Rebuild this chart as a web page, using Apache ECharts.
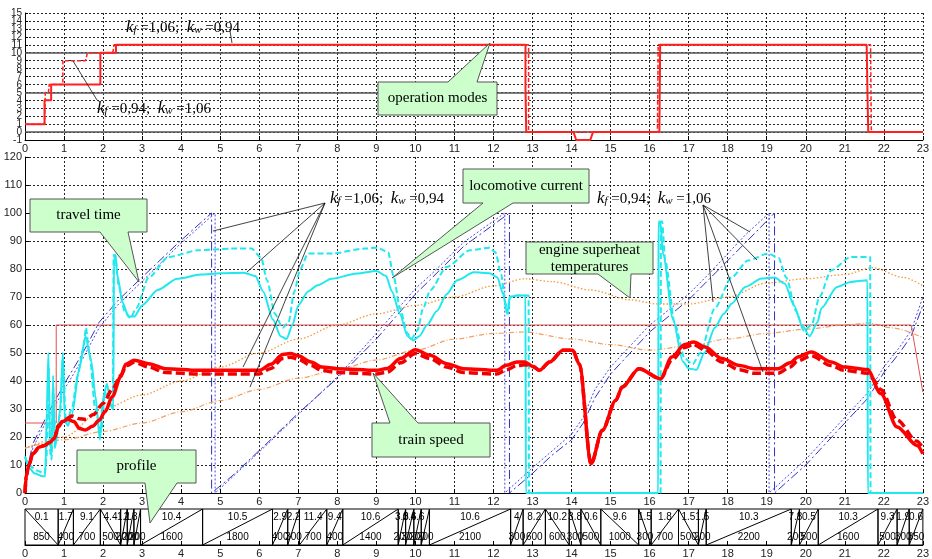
<!DOCTYPE html>
<html><head><meta charset="utf-8">
<script src="https://cdn.jsdelivr.net/npm/echarts@6/dist/echarts.min.js"></script>
<style>html,body{margin:0;padding:0;background:#fff}#c{width:932px;height:559px}</style>
</head><body><div id="c"></div>
<script>
// ---------- axis ranges / ticks ----------
const kmTicks = {min: 0, max: 23, step: 1};
const modeTicks = {min: -1, max: 15, step: 1};
const modeTickLabels = [-1,0,1,2,3,4,5,6,7,8,9,10,11,12,13,14,15];
const mainTicks = {min: 0, max: 120, step: 10};
const modeSolidGrid = [0, 5, 10];

// ---------- top panel: operation modes ----------
const modeSolid = [[0,1],[0.5,1],[0.5,4],[0.67,4],[0.67,6],[1.93,6],[1.93,10],[2.33,10],[2.33,11],[12.82,11],[12.82,5.5],[12.84,5.5],[12.84,0],[14.05,0],[14.12,-1],[14.48,-1],[14.55,0],[16.25,0],[16.27,11],[21.56,11],[21.58,5],[21.6,0],[23,0]];
const modeDashed = [[0,1],[0.5,1],[0.52,5],[0.6,5],[0.62,6],[0.97,6],[0.97,9],[1.55,9],[1.6,10],[2.25,10],[2.28,11],[12.9,11],[12.9,0],[16.2,0],[16.22,11],[21.66,11],[21.68,0],[23,0]];

// ---------- main panel ----------
const speedSolid = [[0,0],[0.03,6],[0.1,10],[0.2,14],[0.37,16.4],[0.5,17],[0.63,18],[0.75,19.5],[0.85,23.5],[0.95,25.5],[1.1,26.3],[1.25,25.5],[1.4,23],[1.55,22.5],[1.73,23.8],[1.9,26],[2.05,29],[2.24,34.5],[2.45,41.5],[2.58,46],[2.8,47.4],[3.17,46.2],[3.6,44.4],[4.44,43.8],[5.5,43.8],[6.0,43.8],[6.3,46],[6.6,49.5],[6.8,49.8],[7.0,49],[7.33,46.8],[7.6,45],[8.0,44.4],[9.0,43.8],[9.28,44.5],[9.62,48],[10.0,51.2],[10.38,49.2],[10.8,46.2],[11.23,44.4],[12.08,43.8],[12.33,45.6],[12.6,46.8],[12.8,46.8],[13.01,45.2],[13.18,43.8],[13.44,46.8],[13.78,51],[14.03,51],[14.2,46],[14.5,10.5],[14.79,22.4],[15.13,33],[15.3,37.9],[15.73,44.4],[16.28,40.8],[16.57,48.6],[16.9,53],[17.13,53.9],[17.42,52.1],[17.85,48],[18.3,45.5],[18.69,44.4],[19.29,44.4],[19.6,46.5],[19.8,48.6],[20.14,50.4],[20.65,46.8],[20.98,45],[21.58,44.1],[21.92,35.5],[22.34,23.6],[22.85,17],[23,14]];
const speedDashed = [[0,0],[0.03,6],[0.1,10],[0.2,14],[0.37,16.4],[0.5,17],[0.63,18],[0.75,19.5],[0.85,24],[1.0,26],[1.2,27.5],[1.4,26.5],[1.55,26.3],[1.75,28],[2.0,32],[2.24,37],[2.45,42],[2.6,45.5],[2.8,46.7],[3.17,45],[3.6,43],[4.44,42.5],[5.5,42.5],[6.0,42.5],[6.3,44.5],[6.6,48],[6.8,48.5],[7.0,47.8],[7.33,45.5],[7.6,43.8],[8.0,43],[9.0,42.5],[9.28,43.2],[9.62,46.5],[10.0,49.8],[10.38,48],[10.8,45],[11.23,43],[12.08,42.5],[12.33,44],[12.6,45.5],[12.8,45.8],[13.01,45.2],[13.18,43.8],[13.44,46.8],[13.78,51],[14.03,51],[14.2,46],[14.5,10.5],[14.79,22.4],[15.13,33],[15.3,37.9],[15.73,44.4],[16.28,40.8],[16.57,47.5],[16.9,52],[17.13,53],[17.42,51],[17.85,46.8],[18.3,44],[18.69,42.8],[19.29,42.8],[19.6,45],[19.8,47.2],[20.14,49],[20.65,45.5],[20.98,43.8],[21.58,42.8],[21.7,41],[21.92,37],[22.34,26],[22.85,18.5],[23,16]];
const speedLimit = [[0,25],[0.8,25],[0.8,60],[22.7,60],[23,36]];

const currentSolid = [[0,13],[0.1,9],[0.25,7],[0.45,6],[0.52,6],[0.56,30],[0.6,50],[0.64,20],[0.68,13],[0.72,42],[0.76,16],[0.82,20],[0.9,30],[0.97,50],[1.02,26],[1.1,24],[1.2,28],[1.4,45],[1.55,56],[1.7,47],[1.8,35],[1.92,19],[2.0,34],[2.1,39],[2.2,31],[2.26,30],[2.28,85],[2.32,85],[2.36,78],[2.5,68],[2.65,63],[2.8,63],[3.0,67],[3.4,72.5],[3.9,76.5],[4.5,78],[5.0,78.5],[5.6,78.7],[5.9,77.5],[6.1,72],[6.35,62],[6.55,56],[6.7,55],[6.85,60],[7.0,67],[7.25,72],[7.5,74.2],[7.85,76.5],[8.5,78.4],[9.0,79.3],[9.25,77.5],[9.4,72],[9.6,64],[9.8,56],[9.95,54.5],[10.1,56],[10.3,60],[10.55,65],[10.8,71],[11.07,76],[11.5,78.8],[11.9,78.5],[12.1,77],[12.25,71],[12.35,64],[12.42,70],[12.6,70.5],[12.82,70.5],[12.83,0],[16.22,0],[16.23,97],[16.27,97],[16.35,85],[16.6,62],[16.85,47],[17.0,44.5],[17.2,44],[17.4,50],[17.67,59],[17.9,64],[18.1,67.6],[18.45,73.6],[18.87,76.6],[19.2,77],[19.46,74.8],[19.7,67],[19.9,60],[20.1,56],[20.3,61],[20.4,66],[20.8,73.6],[21.15,75.4],[21.58,76],[21.59,0],[23,0]];
const currentDashed = [[0,13],[0.1,10],[0.3,8],[0.5,7],[0.55,12],[0.6,45],[0.64,15],[0.68,12],[0.72,38],[0.78,18],[0.9,28],[0.97,48],[1.05,25],[1.2,30],[1.35,42],[1.5,52],[1.56,59],[1.65,50],[1.8,30],[1.95,22],[2.05,36],[2.15,33],[2.25,30],[2.27,85],[2.31,85],[2.4,74],[2.55,65],[2.7,62.5],[2.85,66],[3.17,77],[3.68,84.3],[4.44,86.7],[5.3,87.3],[5.8,87.3],[6.05,84],[6.2,76],[6.4,64],[6.6,59],[6.75,61],[6.9,72],[7.05,80],[7.25,85.5],[7.85,85.5],[8.7,87.3],[9.02,87.6],[9.3,86],[9.45,77],[9.6,66],[9.8,57],[9.9,55],[10.05,58],[10.2,66],[10.38,72.4],[10.8,80.7],[11.4,86.7],[11.9,87.6],[12.05,86],[12.2,78],[12.3,68],[12.38,64],[12.42,70],[12.6,70.5],[12.9,70.5],[12.91,0],[16.28,0],[16.29,97],[16.32,97],[16.4,83],[16.65,60],[16.9,48],[17.1,46],[17.3,50],[17.67,66],[18.1,77],[18.52,83],[19.03,85.5],[19.3,84],[19.5,77],[19.75,65],[19.95,58],[20.15,60],[20.35,70],[20.65,79.5],[21.15,84.3],[21.65,84.3],[21.66,0],[23,0]];

const travelDashDot = [[0,0],[0.05,8],[0.2,17.6],[0.63,29.5],[1.05,40],[1.48,50],[1.9,61],[2.4,69],[2.92,76],[3.94,89.5],[4.78,100],[4.78,0],[5.3,6],[6.14,17],[7,28.5],[8,41],[9,55],[10,71],[10.4,76.5],[11.23,88],[12.41,100],[12.41,0],[13,7],[13.5,13.5],[14,19],[14.3,25],[14.6,34],[15,42.5],[16,57.5],[17,69],[17.5,76],[18.5,90],[19.2,100],[19.2,0],[20,10],[21,25],[21.6,34],[22,43],[22.4,50],[22.7,56],[23,67]];
const travelDotted = [[0,0],[0.05,7],[0.2,16],[0.63,28],[1.05,38],[1.48,48],[1.9,59],[2.4,67.5],[2.92,74.5],[3.94,88.5],[4.87,100],[4.87,0],[5.3,5.5],[6.14,16.5],[7,28],[8,41.5],[9,57],[10,73],[10.4,78],[11.23,89.5],[12.29,100],[12.29,0],[13,9],[13.5,15],[14,21],[14.3,27],[14.6,37],[15,45],[16,60],[17,71],[17.5,78],[18.44,92],[19.06,100],[19.06,0],[20,12],[21,27],[21.6,36],[22,45],[22.4,52],[22.7,58],[23,70]];

const tempUpper = [[0,16],[1,20],[2,30],[3,35],[4,40],[5,45],[6,50],[7,55],[8,60],[9,64],[10,67],[11,70],[12,74],[12.8,76.5],[13.5,75.5],[14.5,72.5],[15.5,69],[16.2,67.5],[17,67.5],[18,70],[19,75],[20,76.5],[21,78],[21.7,80.5],[22.5,77],[23,74]];
const tempLower = [[0,16],[1,19],[2,22],[3,25],[4,29],[5,33],[6,37],[7,41],[8,44],[9,47.5],[10,51],[11,55],[12,57],[12.8,57.5],[14,55],[15,53],[16,51],[17,52.5],[18,55],[19,57],[20,58.5],[21,60],[21.6,60.7],[22.2,59],[23,55.5]];

// ---------- profile strip ----------
const profStart = [0,0.85,1.24,1.93,2.45,2.62,2.79,2.96,4.55,6.34,6.73,7.03,7.73,8.14,9.56,9.75,9.96,10.15,10.36,12.44,12.76,13.33,13.94,14.24,14.75,15.72,16.04,16.74,17.25,17.45,19.63,19.84,20.32,21.85,22.34,22.65];
const profEnd   = [0.85,1.24,1.93,2.45,2.62,2.79,2.96,4.55,6.34,6.73,7.03,7.73,8.14,9.56,9.75,9.96,10.15,10.36,12.44,12.76,13.33,13.94,14.24,14.75,15.72,16.04,16.74,17.25,17.45,19.63,19.84,20.32,21.85,22.34,22.65,23];
const profGrade = ['0.1','1.7','9.1','4.4','1.1','2.3','','10.4','10.5','2.9','2.2','11.4','9.4','10.6','3.3','0.6','4.6','','10.6','4','8.2','10.2','3.8','0.6','9.6','1.5','1.8','1.5','1.5','10.3','7.8','0.5','10.3','9.3','1.9','0.6'];
const profLen   = ['850','400','700','500','200','200','200','1600','1800','400','300','700','400','1400','200','300','200','200','2100','300','600','600','300','500','1000','300','700','500','200','2200','200','500','1600','500','300','350'];
const profDir   = ['d','u','u','d','u','u','u','u','u','u','u','u','u','u','u','u','u','u','u','u','u','d','d','d','d','d','u','d','u','u','u','u','u','u','u','u'];

// ---------- chart ----------
const FONT = 'Liberation Sans';
const chart = echarts.init(document.getElementById('c'));
const gridLine = {show:true, lineStyle:{color:'#000', width:1, type:[2,2], opacity:0.85}};
function xAx(gi, labels) {
  return {type:'value', gridIndex:gi, min:kmTicks.min, max:kmTicks.max, interval:kmTicks.step,
    axisLine:{show:true, onZero:false, lineStyle:{color:'#000', width:1}},
    axisTick:{show:true, inside:true, length:4, lineStyle:{color:'#000'}},
    axisLabel:{show:labels, color:'#222', fontSize:11, fontFamily:FONT, margin:3, showMinLabel:true, showMaxLabel:true},
    splitLine: gi===2 ? {show:false} : gridLine};
}
function ln(data, gi, color, width, type, z, smooth) {
  return {type:'line', data, xAxisIndex:gi, yAxisIndex:gi, symbol:'none', showSymbol:false,
    smooth: smooth || false, smoothMonotone:'x', lineStyle:{color, width, type}, z, silent:true, animation:false};
}

const option = {
  animation:false,
  grid:[
    {left:25, top:13, width:904, height:127},
    {left:25, top:157, width:904, height:336},
    {left:25, top:509, width:904, height:40}
  ],
  xAxis:[xAx(0,true), xAx(1,true), xAx(2,true)],
  yAxis:[
    {type:'value', gridIndex:0, min:modeTicks.min, max:modeTicks.max, interval:modeTicks.step,
      axisLine:{show:true, lineStyle:{color:'#000'}}, axisTick:{show:true, inside:true, length:3, lineStyle:{color:'#000'}},
      axisLabel:{show:false}, splitLine:gridLine},
    {type:'value', gridIndex:1, min:mainTicks.min, max:mainTicks.max, interval:mainTicks.step,
      axisLine:{show:true, lineStyle:{color:'#000'}}, axisTick:{show:true, inside:true, length:4, lineStyle:{color:'#000'}},
      axisLabel:{color:'#222', fontSize:11, fontFamily:FONT, margin:3, showMinLabel:true, showMaxLabel:true}, splitLine:gridLine},
    {type:'value', gridIndex:2, min:0, max:1, show:false}
  ],
  series:[
    ln(modeDashed,0,'#ff2020',1.5,[4,2],5),
    Object.assign(ln(modeSolid,0,'#ff2020',2,'solid',6), {
      markLine:{silent:true, symbol:'none', label:{show:false}, animation:false,
        lineStyle:{color:'#555', width:1.5, type:'solid'},
        data: modeSolidGrid.map(v=>({yAxis:v}))}}),
    {type:'custom', xAxisIndex:0, yAxisIndex:0, silent:true, animation:false, clip:false,
      data: modeTickLabels.map(v=>[kmTicks.min, v]),
      renderItem:(params, api)=>{
        const p = api.coord([api.value(0), api.value(1)]);
        return {type:'text', style:{text:String(api.value(1)), x:p[0]-3, y:p[1]+0.5, align:'right', verticalAlign:'middle', font:'10px '+FONT, fill:'#222'}};
      }},
    ln(travelDashDot,1,'#3030c8',1,[9,3,2,3],2),
    ln(travelDotted,1,'#4a4ae0',1,[2,2],2),
    ln(tempUpper,1,'#f59a3a',1.3,[1.5,2],3,0.3),
    ln(tempLower,1,'#f0a060',1.2,[5,2,1,2],3,0.3),
    ln(speedLimit,1,'#e45050',1,'solid',3),
    ln(currentSolid,1,'#20e8ee',2,'solid',4,0.25),
    ln(currentDashed,1,'#20e8ee',2,[6,3],4,0.25),
    ln(speedDashed,1,'#ee0000',3.5,[9,4],6,0.3),
    ln(speedSolid,1,'#ff0000',3.5,'solid',7,0.3),
    {type:'custom', xAxisIndex:2, yAxisIndex:2, silent:true, animation:false,
      data: profStart.map((s,i)=>[s, profEnd[i], i]),
      renderItem:(params, api)=>{
        const i = api.value(2);
        const a = api.coord([api.value(0),1]);
        const b = api.coord([api.value(1),0]);
        const w = b[0]-a[0], h = b[1]-a[1];
        const up = profDir[i]==='u';
        const cx = (a[0]+b[0])/2;
        return {type:'group', children:[
          {type:'rect', shape:{x:a[0], y:a[1], width:w, height:h}, style:{fill:'none', stroke:'#000', lineWidth:1}},
          {type:'line', shape: up ? {x1:a[0],y1:b[1],x2:b[0],y2:a[1]} : {x1:a[0],y1:a[1],x2:b[0],y2:b[1]}, style:{stroke:'#000', lineWidth:1}},
          {type:'text', style:{text:profGrade[i], x:cx, y:a[1]+h*0.22, align:'center', verticalAlign:'middle', font:'10px '+FONT, fill:'#000'}},
          {type:'text', style:{text:profLen[i], x:cx, y:a[1]+h*0.78, align:'center', verticalAlign:'middle', font:'10px '+FONT, fill:'#000'}}
        ]};
      }}
  ]
};
chart.setOption(option);

// ---------- annotations (callouts & labels) ----------
const callouts = [
  {pts:[[378,82],[448,82],[490,43],[477,82],[497,82],[497,115],[378,115]], text:'operation modes', tx:437.5, ty:98.5},
  {pts:[[30,199],[147,199],[147,232],[128,232],[139,282],[100,232],[30,232]], text:'travel time', tx:88.5, ty:215.5},
  {pts:[[463,169],[589,169],[589,203],[513,203],[392,278],[483,203],[463,203]], text:'locomotive current', tx:526, ty:186},
  {pts:[[526,242],[653,242],[653,274],[631,274],[630,298],[598,274],[526,274]], text:'engine superheat\ntemperatures', tx:589.5, ty:258.5},
  {pts:[[372,423],[390,423],[373,373],[418,423],[490,423],[490,457],[372,457]], text:'train speed', tx:431, ty:440},
  {pts:[[77,450],[196,450],[196,483],[177,483],[150,523],[145,483],[77,483]], text:'profile', tx:136.5, ty:466.5}
];
const kLabels = [
  {x:126, y:26, a:'f', va:'=1,06;', b:'w', vb:'=0,94'},
  {x:97, y:107, a:'f', va:'=0,94;', b:'w', vb:'=1,06'},
  {x:330, y:197, a:'f', va:'=1,06;', b:'w', vb:'=0,94'},
  {x:597, y:197, a:'f', va:'=0,94;', b:'w', vb:'=1,06'}
];
const leaders = [
  [[230,31],[232,43]], [[97,100],[73,61]],
  [[325,203],[213,231]], [[325,203],[247,272]], [[325,203],[243,367]], [[325,203],[250,387]],
  [[703,205],[750,232]], [[703,205],[757,260]], [[703,205],[713,302]], [[703,205],[763,372]]
];
const g = [];
leaders.forEach(l=>g.push({type:'line', z:90, silent:true, shape:{x1:l[0][0],y1:l[0][1],x2:l[1][0],y2:l[1][1]}, style:{stroke:'#111', lineWidth:0.8}}));
callouts.forEach(c=>{
  g.push({type:'polygon', z:100, silent:true, shape:{points:c.pts}, style:{fill:'#ccffcc', stroke:'#555', lineWidth:1}});
  g.push({type:'text', z:101, silent:true, style:{text:c.text, x:c.tx, y:c.ty, align:'center', verticalAlign:'middle', font:'15px Liberation Serif', fill:'#000', lineHeight:17}});
});
kLabels.forEach(k=>{
  g.push({type:'text', z:101, silent:true, style:{
    x:k.x, y:k.y, align:'left', verticalAlign:'middle',
    text:'{k|k}{s|'+k.a+'}{n| '+k.va+'  }{k|k}{s|'+k.b+'}{n| '+k.vb+'}',
    rich:{
      k:{font:'italic 17px Liberation Serif', fill:'#000', lineHeight:20, verticalAlign:'bottom'},
      s:{font:'italic 11px Liberation Serif', fill:'#000', lineHeight:20, verticalAlign:'bottom', padding:[6,0,0,0]},
      n:{font:'15px Liberation Serif', fill:'#000', lineHeight:20, verticalAlign:'bottom'}
    }}});
});
chart.setOption({graphic:{elements:g}});
</script>
</body></html>
